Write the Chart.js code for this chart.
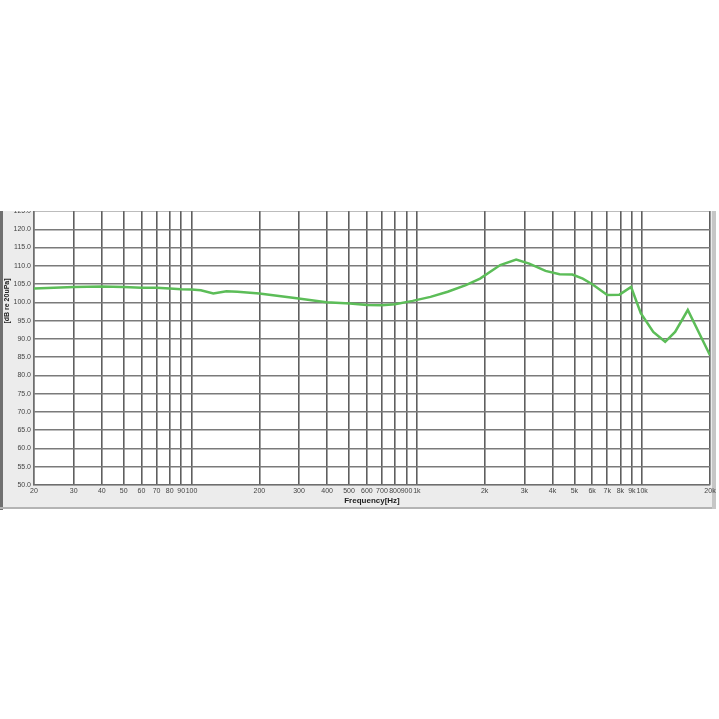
<!DOCTYPE html>
<html>
<head>
<meta charset="utf-8">
<script src="https://cdn.jsdelivr.net/npm/chart.js@4.4.1/dist/chart.umd.min.js"></script>
<style>
  html, body { margin: 0; padding: 0; background: #fff; overflow: hidden; }
  canvas { display: block; }
</style>
</head>
<body>
<canvas id="chart" width="719" height="719"></canvas>
<script>
// frequency response
const freqs = [20, 30, 40, 50, 60, 70, 80, 90, 100, 110, 125, 143, 160, 200, 293, 397, 505, 600, 700, 800, 958, 1150, 1371, 1650, 1908, 2345, 2760, 3154, 3724, 4300, 4900, 5450, 6030, 7000, 7930, 8930, 9860, 11200, 12650, 14000, 15940, 20000];
const spl = [103.8, 104.2, 104.3, 104.2, 104.0, 104.0, 103.8, 103.6, 103.5, 103.3, 102.4, 103.0, 102.9, 102.4, 101.1, 100.0, 99.7, 99.3, 99.2, 99.5, 100.4, 101.5, 102.9, 104.7, 106.5, 110.2, 111.7, 110.6, 108.6, 107.7, 107.6, 106.5, 104.9, 102.0, 102.1, 104.2, 97.0, 91.9, 89.2, 91.9, 97.9, 85.5];

// x tick values and their labels
const xTicks = [20, 30, 40, 50, 60, 70, 80, 90, 100, 200, 300, 400, 500, 600, 700, 800, 900, 1000, 2000, 3000, 4000, 5000, 6000, 7000, 8000, 9000, 10000, 20000];
const xLabels = ["20", "30", "40", "50", "60", "70", "80", "90", "100", "200", "300", "400", "500", "600", "700", "800", "900", "1k", "2k", "3k", "4k", "5k", "6k", "7k", "8k", "9k", "10k", "20k"];

const yMin = 50, yMax = 125, yStep = 5;
const xTitle = "Frequency[Hz]";
const yTitle = "[dB re 20uPa]";

const canvas = document.getElementById("chart");

const framePlugin = {
    id: "frame",
    beforeDraw(chart) {
        const ctx = chart.ctx;
        const a = chart.chartArea;
        ctx.save();
        ctx.fillStyle = "#ffffff";
        ctx.fillRect(0, 0, chart.width, chart.height);
        ctx.fillStyle = "#ececec"; // panel behind the labels
        ctx.fillRect(3, 205, 710, 302);
        ctx.fillStyle = "#707070"; // dark bar on the left
        ctx.fillRect(0, 205, 3, 305);
        ctx.fillStyle = "#b4b4b4"; // bottom edge
        ctx.fillRect(0, 507, 716, 2);
        ctx.fillStyle = "#c6c6c6"; // right bar
        ctx.fillRect(712, 205, 4, 304);
        ctx.fillStyle = "#ffffff";
        ctx.fillRect(a.left, a.top, a.right - a.left, a.bottom - a.top);
        ctx.restore();
    },
    afterDraw(chart) {
        const ctx = chart.ctx;
        const a = chart.chartArea;
        ctx.save();
        // the screenshot is cut off right at the top line
        ctx.fillStyle = "#ffffff";
        ctx.fillRect(0, 0, chart.width, a.top);
        ctx.fillStyle = "#222";
        ctx.font = "bold 8px 'Liberation Sans', Arial, sans-serif";
        ctx.textAlign = "center";
        ctx.textBaseline = "middle";
        ctx.fillText(xTitle, (a.left + a.right) / 2, 501);
        ctx.font = "bold 7px 'Liberation Sans', Arial, sans-serif";
        ctx.translate(7, 301);
        ctx.rotate(-Math.PI / 2);
        ctx.fillText(yTitle, 0, 0);
        ctx.restore();
    }
};

new Chart(canvas, {
    type: "line",
    data: {
        datasets: [{
            data: freqs.map((f, i) => ({ x: f, y: spl[i] })),
            borderColor: "#5cbd58",
            borderWidth: 2.5,
            pointRadius: 0,
            tension: 0,
            fill: false
        }]
    },
    options: {
        responsive: false,
        animation: false,
        devicePixelRatio: 1,
        layout: { padding: { left: 3, right: 9, top: 211, bottom: 214 } },
        plugins: {
            legend: { display: false },
            tooltip: { enabled: false }
        },
        scales: {
            x: {
                type: "logarithmic",
                min: 20,
                max: 20000,
                afterBuildTicks: s => { s.ticks = xTicks.map(v => ({ value: v })); },
                afterFit: s => { s.height = 20; },
                ticks: {
                    autoSkip: false,
                    maxRotation: 0,
                    padding: 2,
                    color: "#444",
                    font: { size: 7, family: "'Liberation Sans', Arial, sans-serif" },
                    callback: v => xLabels[xTicks.indexOf(v)] ?? ""
                },
                grid: { color: "#5f5f5f", lineWidth: 1.6, drawTicks: false },
                border: { color: "#6e6e6e", width: 1.3 }
            },
            y: {
                min: yMin,
                max: yMax,
                afterFit: s => { s.width = 31; },
                ticks: {
                    stepSize: yStep,
                    padding: 3,
                    color: "#444",
                    font: { size: 7, family: "'Liberation Sans', Arial, sans-serif" },
                    callback: v => Number(v).toFixed(1)
                },
                grid: { color: "#7a7a7a", lineWidth: 1.5, drawTicks: false },
                border: { color: "#6e6e6e", width: 1.3 }
            }
        }
    },
    plugins: [framePlugin]
});
</script>
</body>
</html>
